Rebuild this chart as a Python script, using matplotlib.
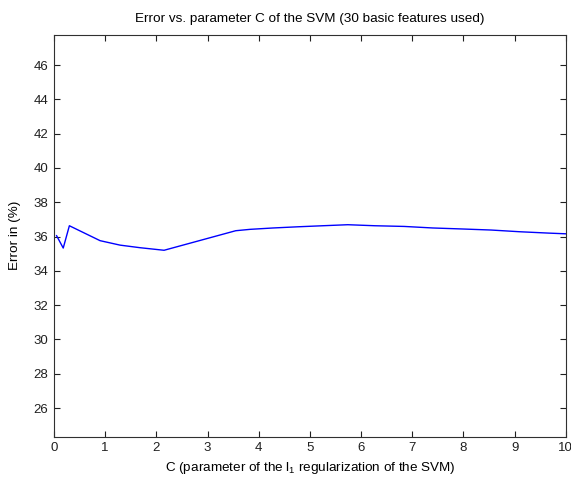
import matplotlib
matplotlib.use('Agg')
import matplotlib.pyplot as plt

# values
c_values = [0.05, 0.18, 0.30, 0.90, 1.29, 1.68, 2.15, 3.55, 3.83, 4.28, 4.77,
            5.25, 5.74, 6.27, 6.84, 7.40, 7.99, 8.54, 9.10, 9.67, 10.0]
error_pct = [36.05, 35.33, 36.63, 35.76, 35.50, 35.35, 35.20, 36.34, 36.42, 36.50, 36.57,
             36.63, 36.69, 36.63, 36.59, 36.50, 36.44, 36.38, 36.28, 36.20, 36.16]
x_ticks = list(range(0, 11))
y_ticks = list(range(26, 47, 2))

plt.rcParams['font.family'] = ['Liberation Sans', 'DejaVu Sans']
plt.rcParams['mathtext.fontset'] = 'custom'
plt.rcParams['mathtext.rm'] = 'Liberation Sans'
plt.rcParams['mathtext.it'] = 'Liberation Sans'

fig = plt.figure(figsize=(5.71, 4.8), dpi=100)
ax = fig.add_axes([0.0946, 0.0902, 0.8964, 0.8379])

ax.plot(c_values, error_pct, color='#0000ff', linewidth=1.0)

ax.set_xlim(0, 10)
ax.set_ylim(24.33, 47.78)
ax.set_xticks(x_ticks)
ax.set_yticks(y_ticks)
ax.tick_params(direction='in', top=True, right=True, length=4, width=0.8,
               labelsize=9.5, colors='#202020', pad=4)
for s in ax.spines.values():
    s.set_color('#303030')
    s.set_linewidth(0.8)

ax.set_title('Error vs. parameter C of the SVM (30 basic features used)', fontsize=9.7, pad=9)
ax.set_xlabel(r'C (parameter of the $\mathregular{l_1}$ regularization of the SVM)', fontsize=9.7, labelpad=4)
ax.set_ylabel('Error in (%)', fontsize=9.7, labelpad=9)

fig.savefig('out.png', dpi=100)
